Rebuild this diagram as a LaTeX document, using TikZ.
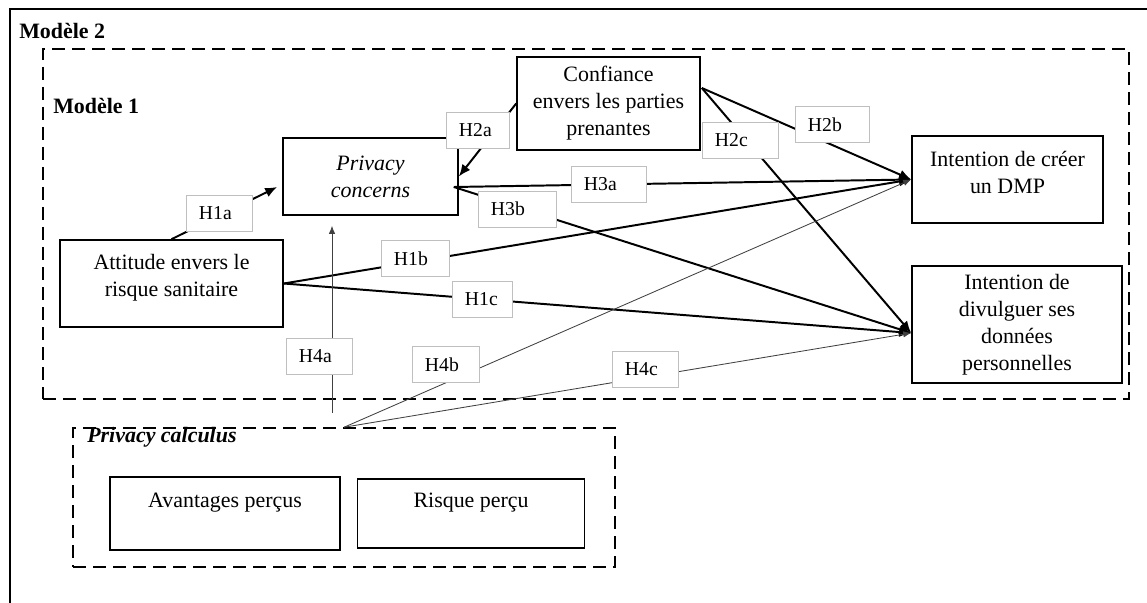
\documentclass[tikz,border=0pt]{standalone}
\usepackage{fontspec}
\setmainfont{Liberation Serif}
\usepackage{tikz}
\usetikzlibrary{positioning}
\usetikzlibrary{arrows.meta}
\usetikzlibrary{calc}
\tikzset{var/.style={draw, line width=1.1pt, align=center, inner sep=0pt,
        font=\fontsize{15.6}{19.2}\selectfont},
      hyp/.style={draw=black!25, fill=white, line width=0.5pt,
        text width=#1, align=left, inner xsep=0.31cm, inner ysep=0pt,
        minimum height=0.9cm, font=\fontsize{14}{16}\selectfont},
      hyp/.default=1.05cm,
      title/.style={inner sep=0pt, font=\bfseries\fontsize{15.6}{18}\selectfont},
      model/.style={draw, line width=1.1pt, dash pattern=on 0.33cm off 0.17cm},
      every edge/.style={draw,
      ->,>={Latex[length=3mm,width=2.5mm]}, line width=1.4pt},
      weak/.style={line width=0.6pt, draw=black!75, >={Latex[length=2mm,width=1.6mm]}}}

\begin{document}
\begin{tikzpicture}[x=0.025cm, y=-0.025cm]
  \useasboundingbox (0,0) rectangle (1147,603);
  % outer frame
  \draw[line width=1.2pt] (1147,9) -- (10,9) -- (10,603);

  % the two models and the calculus block
  \node[model, minimum width=27.15cm, minimum height=8.75cm] (m2) at (586,224) {};
  \node[model, minimum width=13.55cm, minimum height=3.475cm] (calc) at (344,497.5) {};
  \node[title, anchor=west] (t2) at (19,31) {Modèle 2};
  \node[title, anchor=west] (t1) at (53,106) {Modèle 1};
  \node[title, anchor=west] (t3) at (87,437) {\itshape Privacy calculus};

  % variables
  \node[var, minimum width=4.575cm, minimum height=2.325cm] (conf) at (608.5,103.5) {Confiance\\envers les parties\\prenantes};
  \node[var, minimum width=4.375cm, minimum height=1.925cm] (pc) at (370.5,176.5) {\textit{Privacy}\\\textit{concerns}};
  \node[var, minimum width=5.575cm, minimum height=2.175cm] (att) at (171.5,283.5) {Attitude envers le\\risque sanitaire\\[-7.5pt]~};
  \node[var, minimum width=4.775cm, minimum height=2.175cm] (dmp) at (1007.5,179.5) {Intention de créer\\un DMP\\[-9.5pt]~};
  \node[var, minimum width=5.25cm, minimum height=2.925cm] (div) at (1017,324.5) {Intention de\\divulguer ses\\données\\personnelles};
  \node[var, minimum width=5.75cm, minimum height=1.825cm] (avant) at (225,513.5) {Avantages perçus\\~};
  \node[var, minimum width=5.675cm, minimum height=1.725cm, right=0.4cm of avant] (risk) {Risque perçu\\~};

  \coordinate (pcin) at ($(pc.west)+(-5,10.5)$);
  \coordinate (pcout) at ($(pc.east)+(-5,10.5)$);
  \coordinate (pcbelow) at ($(pc.south)+(-38.5,10)$);
  \coordinate (confout) at ($(conf.east)+(1,-15.5)$);
  \coordinate (divin) at ($(div.west)+(0,8.5)$);
  \coordinate (calcup) at (332,413);
  \coordinate (calcout) at ($(calc.north west)+(272,0)$);

  % hypotheses
  \draw (att.north) edge (pcin);
  \draw (conf.west) edge (pc.east);
  \draw (pcout) edge (dmp.west);
  \draw (pcout) edge (divin);
  \draw (att.east) edge (dmp.west);
  \draw (att.east) edge (divin);
  \draw (confout) edge (dmp.west);
  \draw (confout) edge (divin);
  \draw (calcup) edge[weak] (pcbelow);
  \draw (calcout) edge[weak] (dmp.west);
  \draw (calcout) edge[weak] (divin);

  \node[hyp=1.025cm] (h1a) at (219.5,213.5) {H1a};
  \node[hyp=0.95cm] (h2a) at (478,130) {H2a};
  \node[hyp=1.25cm] (h3a) at (609,184) {H3a};
  \node[hyp=1.325cm] (h3b) at (517.5,209) {H3b};
  \node[hyp=1.075cm] (h1b) at (415.5,258.5) {H1b};
  \node[hyp=0.875cm] (h1c) at (482.5,299.5) {H1c};
  \node[hyp=1.275cm] (h2c) at (740.5,140) {H2c};
  \node[hyp=1.225cm] (h2b) at (832.5,124.5) {H2b};
  \node[hyp=1.025cm] (h4a) at (319.5,356) {H4a};
  \node[hyp] (h4b) at (446,364.5) {H4b};
  \node[hyp=1.025cm] (h4c) at (645.5,369.5) {H4c};
\end{tikzpicture}
\end{document}
